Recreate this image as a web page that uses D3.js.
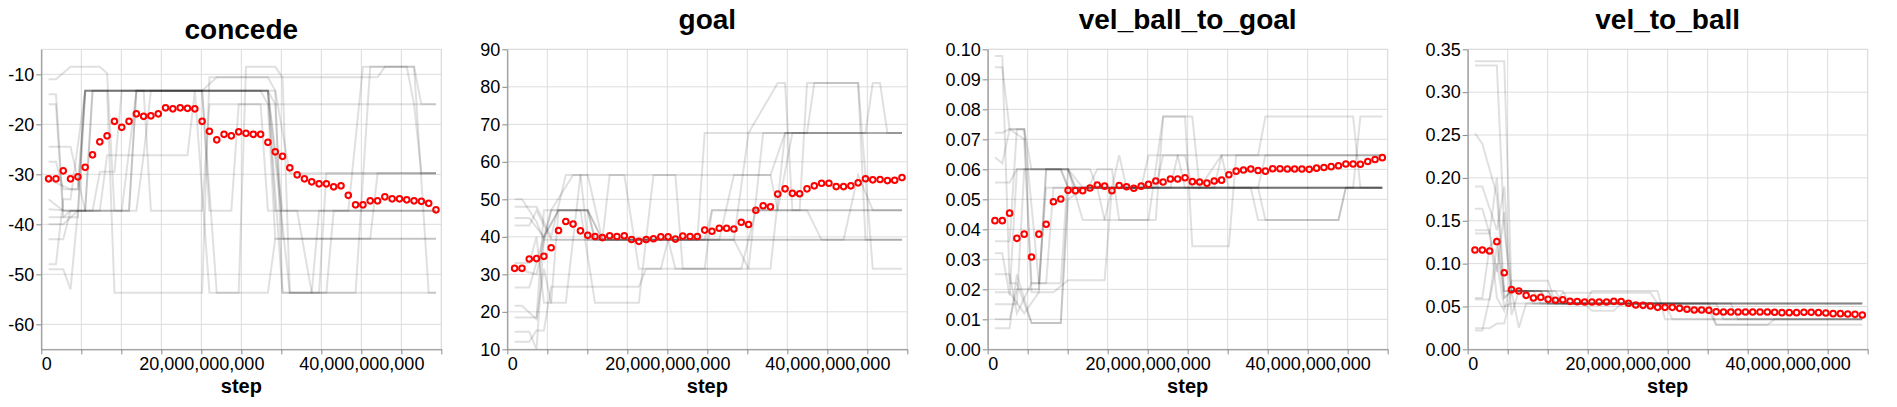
<!DOCTYPE html>
<html>
<head>
<meta charset="utf-8">
<script src="https://cdn.jsdelivr.net/npm/d3@7"></script>
<style>
  body { margin: 0; background: #fff; }
  svg text { font-family: "Liberation Sans", Arial, sans-serif; }
</style>
</head>
<body>
<div id="chart"></div>
<script>
// training step of each logged point, in billions
var steps = [0.91, 1.83, 2.74, 3.65, 4.57, 5.48, 6.40, 7.31, 8.22, 9.14,
  10.05, 10.96, 11.88, 12.79, 13.70, 14.62, 15.53, 16.44, 17.36, 18.27,
  19.19, 20.10, 21.01, 21.93, 22.84, 23.75, 24.67, 25.58, 26.49, 27.41,
  28.32, 29.24, 30.15, 31.06, 31.98, 32.89, 33.80, 34.72, 35.63, 36.54,
  37.46, 38.37, 39.28, 40.20, 41.11, 42.03, 42.94, 43.85, 44.77, 45.68,
  46.59, 47.51, 48.42, 49.33];

var xTicks = [0, 5, 10, 15, 20, 25, 30, 35, 40, 45, 50];   // billions
var xLabels = [0, 20, 40];

var metrics = ["concede", "goal", "vel_ball_to_goal", "vel_to_ball"];

// mean over trials (red circles)
var concedeMean = [-30.9, -30.9, -29.3, -30.9, -30.5, -28.6, -26.1, -23.5, -22.3, -19.4,
  -20.6, -19.4, -17.9, -18.4, -18.3, -17.9, -16.7, -16.9, -16.7, -16.8,
  -16.9, -19.4, -21.4, -23.1, -22.0, -22.3, -21.5, -21.8, -22.0, -22.0,
  -23.6, -25.5, -26.4, -28.7, -30.1, -30.9, -31.5, -31.9, -31.9, -32.5,
  -32.3, -34.2, -36.1, -36.1, -35.3, -35.3, -34.5, -34.9, -34.9, -35.1,
  -35.3, -35.4, -35.8, -37.1];
var goalMean = [31.6, 31.6, 34.1, 34.2, 34.8, 37.1, 41.7, 44.1, 43.4, 41.6,
  40.4, 40.1, 39.8, 40.3, 40.1, 40.3, 39.3, 38.8, 39.3, 39.5,
  40.0, 40.0, 39.4, 40.2, 40.1, 40.1, 41.8, 41.5, 42.3, 42.3,
  42.1, 43.9, 43.3, 47.1, 48.3, 48.0, 51.4, 52.8, 51.6, 51.5,
  52.8, 53.6, 54.3, 54.3, 53.4, 53.4, 53.6, 54.4, 55.5, 55.2,
  55.3, 55.0, 55.1, 55.8];
var velBallToGoalMean = [0.0429, 0.0429, 0.0454, 0.0370, 0.0384, 0.0308, 0.0384, 0.0417, 0.0492, 0.0501,
  0.0530, 0.0529, 0.0529, 0.0538, 0.0548, 0.0544, 0.0529, 0.0546, 0.0542, 0.0537,
  0.0544, 0.0550, 0.0561, 0.0558, 0.0568, 0.0568, 0.0572, 0.0559, 0.0558, 0.0554,
  0.0561, 0.0564, 0.0582, 0.0594, 0.0598, 0.0601, 0.0596, 0.0594, 0.0602, 0.0602,
  0.0601, 0.0601, 0.0601, 0.0600, 0.0604, 0.0606, 0.0609, 0.0612, 0.0618, 0.0618,
  0.0617, 0.0626, 0.0633, 0.0639];
var velToBallMean = [0.1159, 0.1159, 0.1147, 0.1256, 0.0894, 0.0696, 0.0681, 0.0630, 0.0599, 0.0607,
  0.0583, 0.0572, 0.0579, 0.0560, 0.0556, 0.0552, 0.0552, 0.0552, 0.0552, 0.0560,
  0.0556, 0.0537, 0.0517, 0.0513, 0.0506, 0.0490, 0.0490, 0.0490, 0.0478, 0.0467,
  0.0459, 0.0459, 0.0455, 0.0439, 0.0436, 0.0436, 0.0436, 0.0436, 0.0436, 0.0436,
  0.0436, 0.0432, 0.0428, 0.0428, 0.0428, 0.0432, 0.0432, 0.0428, 0.0424, 0.0416,
  0.0416, 0.0412, 0.0408, 0.0400];

// single trials: [step index, value] at each corner of the trace
var concedeRuns = [
  [[0,-37],[3,-37.3],[5,-37.3],[6,-13.3],[30,-13.3],[31,-16],[53,-16]],
  [[0,-35],[2,-37.3],[5,-37.3],[6,-13.3],[30,-13.3],[31,-37.3],[53,-37.3]],
  [[0,-31],[3,-33],[4,-33],[5,-13.3],[31,-13.3],[33,-29.8],[53,-29.8]],
  [[0,-38.6],[2,-38.6],[3,-37.3],[11,-37.3],[12,-13.3],[30,-13.3],[32,-37.3],[53,-37.3]],
  [[0,-24.5],[3,-24.5],[5,-37.3],[11,-37.3],[12,-13.3],[21,-13.3],[22,-37.3],[25,-37.3],[26,-16],[30,-16],[31,-42.9],[44,-42.9],[45,-29.8],[53,-29.8]],
  [[0,-11],[1,-11],[3,-8.5],[7,-8.5],[8,-9.8],[9,-37.3],[12,-37.3],[13,-26.2],[19,-26.2],[20,-13.3],[22,-53.7],[26,-53.7],[27,-8.5],[31,-8.5],[32,-10.6],[33,-53.7],[38,-53.7],[39,-37.3],[53,-37.3]],
  [[0,-14],[1,-14],[2,-37.3],[4,-37.3],[5,-13.3],[21,-13.3],[23,-10.6],[45,-10.6],[46,-8.5],[49,-8.5],[50,-16],[51,-29.8],[53,-29.8]],
  [[0,-16],[1,-16],[2,-38.6],[4,-38.6],[5,-13.3],[8,-13.3],[9,-53.7],[21,-53.7],[22,-10.6],[30,-10.6],[31,-13.3],[32,-53.7],[36,-53.7],[37,-37.3],[41,-37.3],[43,-8.5],[50,-8.5],[52,-53.7],[53,-53.7]],
  [[0,-48],[1,-48],[2,-35],[3,-35],[5,-13.3],[29,-13.3],[30,-16],[31,-16],[32,-42.9],[53,-42.9]],
  [[0,-43],[2,-43],[3,-37.3],[6,-37.3],[7,-29.5],[9,-29.5],[10,-13.3],[13,-13.3],[14,-37.3],[21,-37.3],[22,-16],[29,-16],[30,-37.3],[34,-37.3],[36,-53.7],[42,-53.7],[44,-8.5],[50,-8.5],[51,-16],[53,-16]],
  [[0,-27.5],[1,-27.5],[2,-33],[4,-33],[5,-13.3],[30,-13.3],[32,-53.7],[37,-53.7],[38,-29.8],[53,-29.8]],
  [[0,-49],[2,-49],[3,-53],[4,-37.3],[7,-37.3],[8,-26.2],[13,-26.2],[14,-13.3],[21,-13.3],[23,-53.7],[30,-53.7],[31,-42.9],[53,-42.9]],
  [[0,-40],[2,-40],[4,-37.3],[10,-37.3],[12,-13.3],[30,-13.3],[33,-53.7],[53,-53.7]]
];
var goalRuns = [
  [[0,45],[2,45],[4,40],[6,47.1],[10,47.1],[11,39.2],[53,39.2]],
  [[0,33],[2,33],[3,40],[4,22.4],[5,22.4],[6,47.1],[10,47.1],[11,39.2],[30,39.2],[32,67.7],[53,67.7]],
  [[0,14.7],[2,14.7],[3,10],[4,40],[5,47.1],[8,56.5],[35,56.5],[37,67.7],[53,67.7]],
  [[0,21.6],[1,21.6],[3,18],[4,31.5],[5,22.4],[7,22.4],[9,56.5],[10,56.5],[12,39.2],[26,39.2],[27,47.1],[53,47.1]],
  [[0,50],[1,50],[3,44],[4,39.2],[53,39.2]],
  [[0,26.5],[2,26.5],[4,40],[6,47.1],[9,47.1],[11,22.4],[17,22.4],[19,56.5],[22,56.5],[23,31.5],[32,31.5],[34,67.7],[53,67.7]],
  [[0,48],[3,48],[5,40],[7,56.5],[9,56.5],[10,39.2],[12,39.2],[13,56.5],[15,56.5],[17,31.5],[20,31.5],[21,39.2],[25,39.2],[26,67.7],[32,67.7],[36,81],[37,81],[38,47.1],[53,47.1]],
  [[0,12],[2,12],[3,15],[4,15],[5,26.7],[17,26.7],[18,31.5],[26,31.5],[27,47.1],[36,47.1],[38,67.7],[48,67.7],[49,81],[50,81],[51,67.7],[53,67.7]],
  [[0,18.5],[3,18.5],[4,47.1],[10,47.1],[12,39.2],[30,39.2],[32,31.5],[35,31.5],[37,67.7],[40,67.7],[41,81],[47,81],[48,39.2],[53,39.2]],
  [[0,43],[2,43],[3,47],[5,39.2],[21,39.2],[22,31.5],[31,31.5],[33,47.1],[39,47.1],[40,81],[47,81],[49,31.5],[53,31.5]],
  [[0,31],[1,31],[3,30],[5,47.1],[10,47.1],[12,39.2],[28,39.2],[30,56.5],[35,56.5],[36,47.1],[40,47.1],[42,39.2],[45,39.2],[47,56.5],[49,47.1],[53,47.1]]
];
var velBallToGoalRuns = [
  [[0,0.0978],[1,0.0978],[2,0.022],[3,0.022],[5,0.0088],[9,0.0088],[10,0.0539],[53,0.0539]],
  [[0,0.094],[1,0.094],[2,0.0734],[4,0.0734],[5,0.06],[10,0.06],[11,0.0539],[53,0.0539]],
  [[0,0.0722],[1,0.0722],[2,0.0734],[4,0.07],[5,0.019],[6,0.019],[7,0.06],[10,0.06],[12,0.0539],[22,0.0539],[23,0.0647],[25,0.0647],[26,0.0539],[53,0.0539]],
  [[0,0.064],[1,0.062],[2,0.0734],[4,0.0734],[5,0.022],[6,0.022],[7,0.0539],[53,0.0539]],
  [[0,0.032],[1,0.032],[2,0.018],[3,0.06],[10,0.06],[12,0.0431],[15,0.0431],[16,0.0539],[36,0.0539],[37,0.0431],[47,0.0431],[48,0.0539],[53,0.0539]],
  [[0,0.025],[2,0.025],[3,0.012],[5,0.022],[7,0.022],[8,0.0539],[53,0.0539]],
  [[0,0.019],[2,0.019],[4,0.012],[6,0.019],[8,0.019],[10,0.023],[15,0.023],[16,0.0539],[20,0.0539],[21,0.0647],[26,0.0647],[27,0.0539],[30,0.0539],[31,0.0647],[53,0.0647]],
  [[0,0.015],[3,0.015],[4,0.06],[9,0.06],[10,0.0539],[14,0.0539],[15,0.0431],[21,0.0431],[23,0.0776],[26,0.0776],[27,0.0344],[32,0.0344],[33,0.0647],[53,0.0647]],
  [[0,0.01],[2,0.01],[3,0.02],[6,0.02],[7,0.06],[10,0.06],[11,0.0539],[16,0.0539],[17,0.0647],[18,0.0539],[35,0.0539],[36,0.0431],[47,0.0431],[48,0.0539],[53,0.0539]],
  [[0,0.007],[2,0.007],[3,0.025],[5,0.0088],[9,0.0088],[10,0.05],[13,0.055],[14,0.06],[16,0.06],[17,0.0431],[22,0.0431],[23,0.0776],[27,0.0776],[28,0.0539],[31,0.0647],[36,0.0647],[37,0.0776],[49,0.0776],[50,0.0539],[53,0.0539]],
  [[0,0.0556],[2,0.0556],[3,0.06],[9,0.06],[10,0.0539],[24,0.0539],[25,0.0647],[31,0.0647],[32,0.0539],[49,0.0539],[50,0.0776],[53,0.0776]],
  [[0,0.036],[2,0.036],[3,0.0734],[4,0.0734],[6,0.022],[9,0.022],[10,0.06],[13,0.06],[14,0.0539],[36,0.0539],[37,0.0647],[53,0.0647]]
];
var velToBallRuns = [
  [[0,0.336],[4,0.336],[5,0.068],[9,0.068],[10,0.0536],[53,0.0536]],
  [[0,0.331],[3,0.331],[4,0.14],[5,0.068],[10,0.068],[11,0.0536],[26,0.0536],[27,0.035],[53,0.035]],
  [[0,0.252],[1,0.24],[3,0.18],[4,0.06],[5,0.068],[7,0.068],[8,0.0536],[53,0.0536]],
  [[0,0.19],[1,0.19],[3,0.139],[4,0.19],[5,0.068],[12,0.068],[13,0.0536],[32,0.0536],[33,0.0286],[53,0.0286]],
  [[0,0.164],[1,0.164],[2,0.135],[3,0.09],[4,0.16],[5,0.04],[6,0.068],[11,0.068],[12,0.0536],[15,0.0536],[16,0.068],[25,0.068],[26,0.035],[53,0.035]],
  [[0,0.139],[2,0.139],[3,0.06],[4,0.045],[5,0.08],[10,0.08],[11,0.0536],[53,0.0536]],
  [[0,0.058],[2,0.058],[3,0.1],[4,0.05],[5,0.0536],[15,0.0536],[16,0.045],[19,0.045],[20,0.0536],[33,0.0536],[34,0.035],[53,0.035]],
  [[0,0.0247],[2,0.0247],[3,0.03],[4,0.03],[5,0.068],[8,0.068],[9,0.0536],[28,0.0536],[29,0.045],[32,0.045],[33,0.0286],[40,0.0286],[41,0.035],[53,0.035]],
  [[0,0.022],[1,0.022],[2,0.06],[3,0.12],[4,0.06],[5,0.068],[6,0.025],[7,0.0536],[35,0.0536],[36,0.035],[53,0.035]],
  [[0,0.135],[2,0.135],[3,0.2],[4,0.068],[10,0.068],[11,0.0536],[12,0.066],[24,0.066],[25,0.0536],[53,0.0536]],
  [[0,0.06],[1,0.06],[2,0.12],[3,0.13],[4,0.068],[9,0.068],[10,0.0536],[53,0.0536]]
];

// y axis domains and tick values
var concedeTicks = [-60, -50, -40, -30, -20, -10];
var goalTicks = [10, 20, 30, 40, 50, 60, 70, 80, 90];
var velBallToGoalTicks = [0, 0.01, 0.02, 0.03, 0.04, 0.05, 0.06, 0.07, 0.08, 0.09, 0.1];
var velToBallTicks = [0, 0.05, 0.1, 0.15, 0.2, 0.25, 0.3, 0.35];

// layout
var w = 1897, h = 407;
var pw = 400, ph = 300, plotTop = 49.33;
var lefts = [41.33, 507.33, 987.67, 1467.67];
var titleY = [39, 29, 29, 29];

var svg = d3.select("#chart")
  .append("svg")
  .attr("width", w)
  .attr("height", h);

// plain hyphen for negatives, like the original
var intFmt = function(d) { return String(d); };
var fix2 = d3.format(".2f");

var panels = [
  { domain: [-65, -5], ticks: concedeTicks, fmt: intFmt, mean: concedeMean, runs: concedeRuns },
  { domain: [10, 90], ticks: goalTicks, fmt: intFmt, mean: goalMean, runs: goalRuns },
  { domain: [0, 0.1], ticks: velBallToGoalTicks, fmt: fix2, mean: velBallToGoalMean, runs: velBallToGoalRuns },
  { domain: [0, 0.35], ticks: velToBallTicks, fmt: fix2, mean: velToBallMean, runs: velToBallRuns }
];

panels.forEach(function(p, k) {
  var g = svg.append("g")
    .attr("transform", "translate(" + lefts[k] + "," + plotTop + ")");

  var x = d3.scaleLinear().domain([0, 50e9]).range([0, pw]);
  var y = d3.scaleLinear().domain(p.domain).range([ph, 0]);

  // grid
  g.selectAll(".vgrid").data(xTicks).enter().append("line")
    .attr("x1", function(d) { return x(d * 1e9); })
    .attr("x2", function(d) { return x(d * 1e9); })
    .attr("y1", 0).attr("y2", ph)
    .attr("stroke", "#ddd").attr("stroke-width", 1);
  g.selectAll(".hgrid").data(p.ticks).enter().append("line")
    .attr("x1", 0).attr("x2", pw)
    .attr("y1", function(d) { return y(d); })
    .attr("y2", function(d) { return y(d); })
    .attr("stroke", "#ddd").attr("stroke-width", 1);
  g.append("rect")
    .attr("width", pw).attr("height", ph)
    .attr("fill", "none").attr("stroke", "#ddd");

  // individual trials
  var line = d3.line()
    .x(function(d) { return x(steps[d[0]] * 1e9); })
    .y(function(d) { return y(d[1]); });
  g.selectAll(".run").data(p.runs).enter().append("path")
    .attr("d", line)
    .attr("fill", "none")
    .attr("stroke", "#000")
    .attr("stroke-opacity", 0.12)
    .attr("stroke-width", 2);

  // axes
  var xAxis = d3.axisBottom(x)
    .tickValues(xTicks.map(function(d) { return d * 1e9; }))
    .tickSize(5).tickSizeOuter(0).tickPadding(3)
    .tickFormat(function(d) {
      return xLabels.indexOf(d / 1e9) >= 0 ? d3.format(",")(d) : "";
    });
  var gx = g.append("g").attr("transform", "translate(0," + ph + ")").call(xAxis);
  gx.selectAll("text")
    .attr("font-size", 18).attr("fill", "#000")
    .attr("text-anchor", function(d) { return d === 0 ? "start" : "middle"; });

  var yAxis = d3.axisLeft(y)
    .tickValues(p.ticks)
    .tickSize(5).tickSizeOuter(0).tickPadding(2)
    .tickFormat(p.fmt);
  var gy = g.append("g").call(yAxis);
  gy.selectAll("text").attr("font-size", 18).attr("fill", "#000");

  g.selectAll(".domain, .tick line").attr("stroke", "#888");

  // mean
  g.selectAll(".pt").data(p.mean).enter().append("circle")
    .attr("cx", function(d, i) { return x(steps[i] * 1e9); })
    .attr("cy", function(d) { return y(d); })
    .attr("r", 2.8)
    .attr("fill", "none")
    .attr("stroke", "#ff0000")
    .attr("stroke-width", 2);

  // titles
  svg.append("text")
    .attr("x", lefts[k] + pw / 2).attr("y", titleY[k])
    .attr("text-anchor", "middle")
    .attr("font-size", 28).attr("font-weight", "bold")
    .text(metrics[k]);
  svg.append("text")
    .attr("x", lefts[k] + pw / 2).attr("y", 393)
    .attr("text-anchor", "middle")
    .attr("font-size", 20).attr("font-weight", "bold")
    .text("step");
});
</script>
</body>
</html>
